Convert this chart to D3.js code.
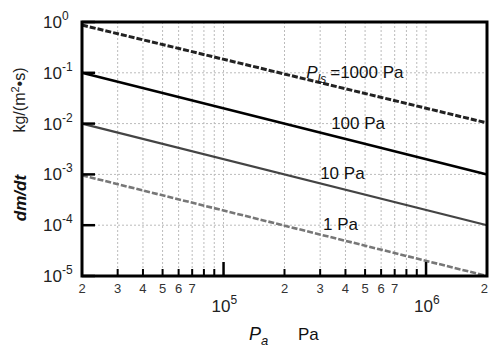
<!DOCTYPE html>
<html><head><meta charset="utf-8">
<script src="https://cdn.jsdelivr.net/npm/d3@7"></script>
<style>body{margin:0;background:#fff;font-family:"Liberation Sans",Arial,sans-serif}</style>
</head><body><svg id="c" width="489" height="349"></svg>
<script>
const xDomain = [2e4, 2e6];
const yDomain = [1e-5, 1];
const seriesNames = ["1000 Pa", "100 Pa", "10 Pa", "1 Pa"];
const seriesX = [2e4, 2e6];
const s1000 = [0.87, 0.0103];
const s100 = [0.1, 0.001];
const s10 = [0.01, 0.0001];
const s1 = [0.00096, 0.00001];
const yTickExps = [0, -1, -2, -3, -4, -5];
const xMinorTicks = [3e4,4e4,5e4,6e4,7e4,8e4,9e4,2e5,3e5,4e5,5e5,6e5,7e5,8e5,9e5];
const xMinorLabels = ["3","4","5","6","7","","","2","3","4","5","6","7","",""];
const xMajorTicks = [1e5, 1e6];
const xMajorExps = ["5", "6"];
const seriesLabels = [
  {xv: 2.56e5, yv: 0.1, main: "=1000 Pa", pls: true},
  {xv: 3.4e5, yv: 0.01, main: "100 Pa"},
  {xv: 3.0e5, yv: 0.001, main: "10 Pa"},
  {xv: 3.1e5, yv: 0.0001, main: "1 Pa"}
];

const svg = d3.select("#c");
const L = 82, T = 22, R = 487, B = 276;
const x = d3.scaleLog().domain(xDomain).range([L, R]);
const y = d3.scaleLog().domain(yDomain).range([B, T]);

// grid
const g = svg.append("g");
g.selectAll("line.vx").data(xMinorTicks.concat(xMajorTicks)).enter().append("line")
  .attr("x1", d => x(d)).attr("x2", d => x(d)).attr("y1", T).attr("y2", B)
  .attr("stroke", "#bbb").attr("stroke-width", 1).attr("stroke-dasharray", "2,2");
g.selectAll("line.hy").data(yTickExps.slice(1, 5)).enter().append("line")
  .attr("x1", L).attr("x2", R).attr("y1", d => y(Math.pow(10, d))).attr("y2", d => y(Math.pow(10, d)))
  .attr("stroke", "#bbb").attr("stroke-width", 1).attr("stroke-dasharray", "2,2");

// series
const line = d3.line().x((d, i) => x(seriesX[i])).y(d => y(d));
const styles = [
  {c: "#222", w: 3, dash: "6,2"},
  {c: "#000", w: 2.6, dash: null},
  {c: "#444", w: 2.2, dash: null},
  {c: "#777", w: 2.6, dash: "6,2"}
];
[s1000, s100, s10, s1].forEach((s, i) => {
  svg.append("path").attr("d", line(s)).attr("fill", "none")
    .attr("stroke", styles[i].c).attr("stroke-width", styles[i].w)
    .attr("stroke-dasharray", styles[i].dash);
});

// ticks
yTickExps.forEach(e => {
  const yy = y(Math.pow(10, e));
  svg.append("line").attr("x1", L).attr("x2", L + 13).attr("y1", yy).attr("y2", yy)
    .attr("stroke", "#000").attr("stroke-width", 2.5);
  const t = svg.append("text").attr("x", 43).attr("y", yy + 6)
    .attr("font-size", 17).attr("fill", "#222");
  t.append("tspan").text("10");
  t.append("tspan").attr("dy", -8).attr("font-size", 12).text(String(e));
});
xMinorTicks.forEach((v, i) => {
  svg.append("line").attr("x1", x(v)).attr("x2", x(v)).attr("y1", B).attr("y2", B - 7)
    .attr("stroke", "#000").attr("stroke-width", 2);
  if (xMinorLabels[i]) svg.append("text").attr("x", x(v)).attr("y", B + 17).attr("text-anchor", "middle")
    .attr("font-size", 13).attr("fill", "#333").text(xMinorLabels[i]);
});
svg.append("text").attr("x", x(xDomain[0])).attr("y", B + 17).attr("text-anchor", "middle")
  .attr("font-size", 13).attr("fill", "#333").text("2");
svg.append("text").attr("x", 488).attr("y", B + 17).attr("text-anchor", "end")
  .attr("font-size", 13).attr("fill", "#333").text("2");
xMajorTicks.forEach((v, i) => {
  svg.append("line").attr("x1", x(v)).attr("x2", x(v)).attr("y1", B).attr("y2", B - 14)
    .attr("stroke", "#000").attr("stroke-width", 2.5);
  const t = svg.append("text").attr("x", x(v) - 12).attr("y", B + 36)
    .attr("font-size", 17).attr("fill", "#222");
  t.append("tspan").text("10");
  t.append("tspan").attr("dy", -8).attr("font-size", 12).text(xMajorExps[i]);
});

// frame
svg.append("rect").attr("x", L).attr("y", T).attr("width", R - L).attr("height", B - T)
  .attr("fill", "none").attr("stroke", "#000").attr("stroke-width", 3);

// series labels
seriesLabels.forEach(l => {
  const t = svg.append("text").attr("x", x(l.xv)).attr("y", y(l.yv) + 5)
    .attr("font-size", 17).attr("fill", "#111");
  if (l.pls) {
    t.append("tspan").attr("font-style", "italic").text("P");
    t.append("tspan").attr("font-style", "italic").attr("font-size", 12).attr("dy", 5).text("ls");
    t.append("tspan").attr("dy", -5).attr("dx", 4).text(l.main);
  } else t.text(l.main);
});

// axis titles
svg.append("text").attr("transform", "translate(26,198) rotate(-90)")
  .attr("text-anchor", "middle").attr("font-size", 17).attr("font-style", "italic").attr("font-weight", "bold")
  .attr("fill", "#111").text("dm/dt");
const yt2 = svg.append("text").attr("transform", "translate(25,100) rotate(-90)")
  .attr("text-anchor", "middle").attr("font-size", 16).attr("fill", "#222");
yt2.append("tspan").text("kg/(m");
yt2.append("tspan").attr("dy", -6).attr("font-size", 11).text("2");
yt2.append("tspan").attr("dy", 6).text("•s)");
const xt = svg.append("text").attr("x", 249).attr("y", 340).attr("font-size", 18).attr("fill", "#111");
xt.append("tspan").attr("font-style", "italic").text("P");
xt.append("tspan").attr("font-style", "italic").attr("font-size", 13).attr("dy", 5).text("a");
svg.append("text").attr("x", 298).attr("y", 340).attr("font-size", 17).attr("fill", "#111").text("Pa");
</script></body></html>
